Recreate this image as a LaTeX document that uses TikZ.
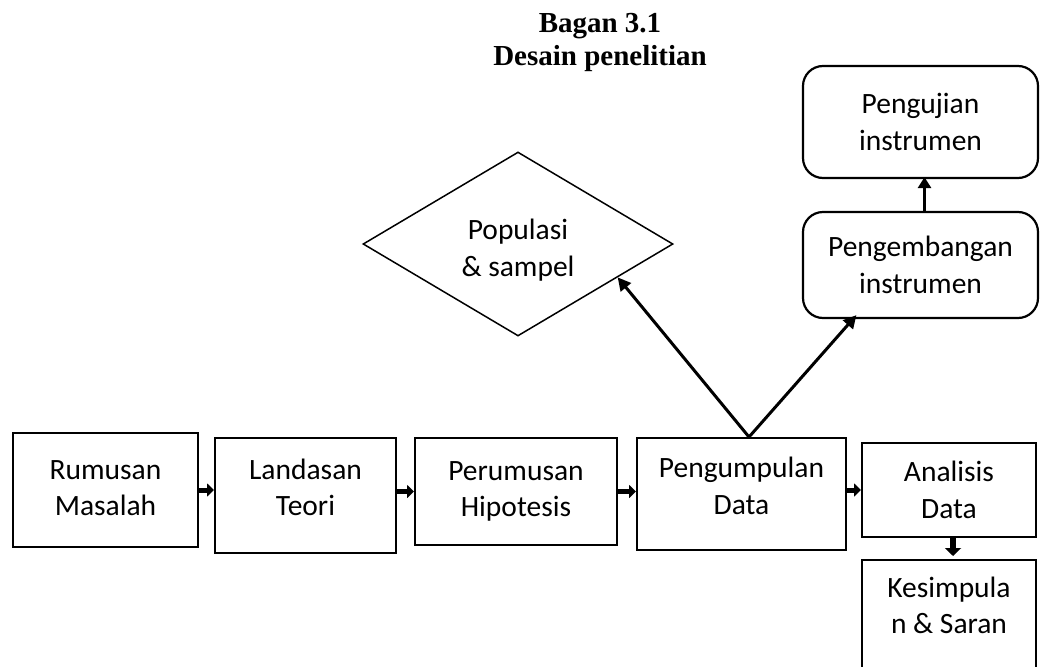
\documentclass[tikz,border=0pt]{standalone}
\usepackage{fontspec}
\setmainfont{Carlito}
\newfontfamily\titlefont{Liberation Serif}
\usetikzlibrary{shapes.geometric,arrows.meta,calc}
\begin{document}
\begin{tikzpicture}[x=1pt,y=-1pt,
  box/.style={draw, line width=2pt, align=center, inner sep=0pt,
    font=\fontsize{29.5}{36.5}\selectfont},
  rbox/.style={box, rounded corners=20pt, line width=2.2pt},
  blk/.style={line width=5pt, -{Triangle[length=7pt,width=13pt]}},
  upar/.style={line width=3.5pt, -{Triangle[length=11pt,width=13pt]}},
  varrow/.style={line width=3pt, -{Triangle[length=13pt,width=13pt]}},
  dia/.style={diamond, aspect=1.7, draw, line width=1.5pt, inner sep=0pt, align=center,
    font=\fontsize{29.5}{36.5}\selectfont},
  ttl/.style={align=center, font=\titlefont\bfseries\fontsize{29}{33}\selectfont}
]
\useasboundingbox (0,0) rectangle (1040,666);

\node[ttl] (title) at (600,42) {Bagan 3.1\\Desain penelitian};

\node[box, minimum width=185pt, minimum height=114pt] (rm) at (105.5,490)
  {Rumusan\\Masalah\rule[-4pt]{0pt}{0pt}};
\node[box, minimum width=181pt, minimum height=115pt] (lt) at (305.5,495.5)
  {Landasan\\Teori\rule[-16pt]{0pt}{0pt}};
\node[box, minimum width=202pt, minimum height=107pt] (ph) at (516,491.5) {Perumusan\\Hipotesis};
\node[box, minimum width=209pt, minimum height=112pt] (pd) at (741.5,494)
  {Pengumpulan\\Data\rule[-16pt]{0pt}{0pt}};
\node[box, minimum width=174pt, minimum height=94pt] (ad) at (949,490) {Analisis\\Data};
\node[box, anchor=north, minimum width=174pt, inner ysep=17pt] (ks) at (949,559)
  {Kesimpula\\n \& Saran\\\rule{0pt}{60pt}};

\node[dia, minimum width=310pt, minimum height=184pt] (pop) at (518,244)
  {\rule{0pt}{33pt}Populasi\\\& sampel};

\node[rbox, minimum width=235pt, minimum height=112pt] (pu) at (920.5,122) {Pengujian\\instrumen};
\node[rbox, minimum width=235pt, minimum height=106pt] (pe) at (920.5,265) {Pengembangan\\instrumen};

\draw[blk] (rm.east) -- (rm.east -| lt.west);
\draw[blk] (ph.west -| lt.east) -- (ph.west);
\draw[blk] (ph.east) -- (ph.east -| pd.west);
\draw[blk] (ad.west -| pd.east) -- (ad.west);
\draw[blk, line width=6pt, -{Triangle[length=8pt,width=16pt]}, shorten >=3pt]
  ($(ad.south)+(4,0)$) -- ($(ks.north)+(4,0)$);
\draw[upar] ($(pe.north)+(4,0)$) -- ($(pu.south)+(4,-2)$);

\coordinate (apex) at ($(pd.north)+(7.5,0)$);
\draw[varrow] (apex) -- ($(pop.south)!0.64!(pop.east)$);
\draw[varrow] (apex) -- ($(pe.south west)!0.23!(pe.south east)+(0,-4)$);
\end{tikzpicture}
\end{document}
